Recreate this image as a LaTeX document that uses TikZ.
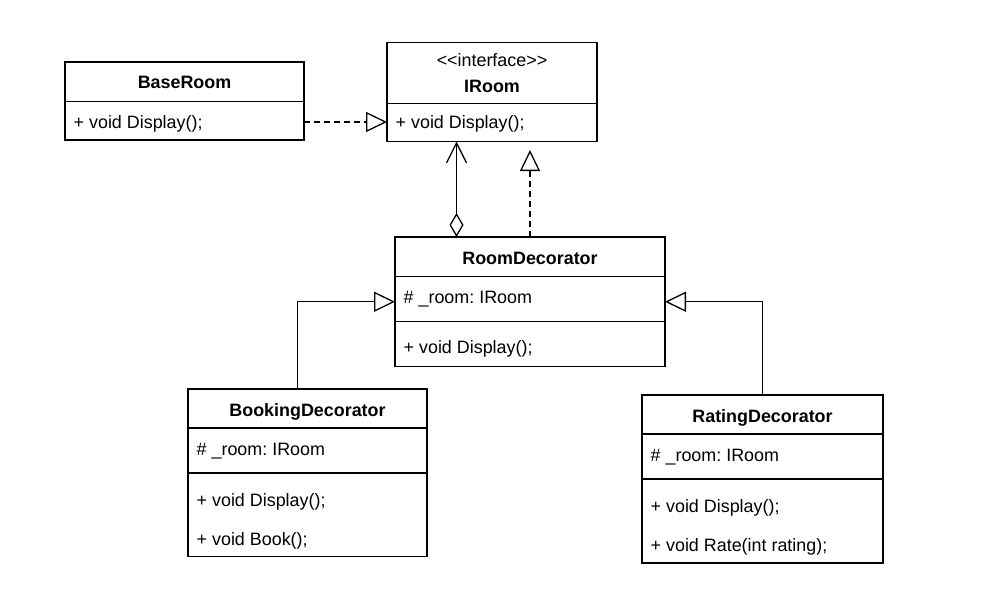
\documentclass[tikz,border=0pt]{standalone}
\usepackage{fontspec}
\setmainfont{Liberation Sans}
\usetikzlibrary{arrows.meta}
\frenchspacing
\begin{document}
\begin{tikzpicture}[x=1pt,y=-1pt, line width=1.4pt,
  box/.style={draw, rectangle, inner sep=0pt, outer sep=0pt, anchor=north west},
  ttl/.style={font=\fontsize{17.9}{20}\selectfont\bfseries, inner sep=0pt, anchor=base},
  stereo/.style={font=\fontsize{17.9}{20}\selectfont, inner sep=0pt, anchor=base},
  txt/.style={font=\fontsize{17.9}{20}\selectfont, inner sep=0pt, anchor=base west},
  dashline/.style={dash pattern=on 6pt off 4pt},
  realize/.style={-{Triangle[open,length=21pt,width=20pt,line width=1.3pt]}},
  aggr/.style={{Diamond[open,length=24pt,width=14pt,line width=1.3pt]}-{Straight Barb[length=20pt,width=20pt,line width=1.3pt]}}
]
\useasboundingbox (0,0) rectangle (988,598);

% BaseRoom
\node[box, minimum width=239pt, minimum height=78pt] (base) at (65,62) {};
\draw (65,101.5) -- (304,101.5);
\node[ttl] (baset) at (184.5,88.3) {BaseRoom};
\node[txt] (basem) at (73,128) {+ void Display();};

% IRoom
\node[box, minimum width=210pt, minimum height=99pt] (iroom) at (387,42.5) {};
\draw (387,103.5) -- (597,103.5);
\node[stereo] (iroomst) at (492,66) {<{}<interface>{}>};
\node[ttl] (iroomt) at (492,92) {IRoom};
\node[txt] (iroomm) at (395,128.6) {+ void Display();};

% RoomDecorator
\node[box, minimum width=270pt, minimum height=129.5pt] (deco) at (395,237) {};
\draw (395,276.5) -- (665,276.5);
\draw (395,321.5) -- (665,321.5);
\node[ttl] (decot) at (530,264.3) {RoomDecorator};
\node[txt] (decoa) at (403,303.3) {\# \_room: IRoom};
\node[txt] (decom) at (403,353.3) {+ void Display();};

% BookingDecorator
\node[box, minimum width=239pt, minimum height=167.5pt] (book) at (188,389) {};
\draw (188,428) -- (427,428);
\draw (188,473) -- (427,473);
\node[ttl] (bookt) at (307.5,416.3) {BookingDecorator};
\node[txt] (booka) at (196,455.3) {\# \_room: IRoom};
\node[txt] (bookm1) at (196,506.3) {+ void Display();};
\node[txt] (bookm2) at (196,545.3) {+ void Book();};

% RatingDecorator
\node[box, minimum width=241pt, minimum height=168pt] (rate) at (642,395) {};
\draw (642,434) -- (883,434);
\draw (642,479) -- (883,479);
\node[ttl] (ratet) at (762.5,422) {RatingDecorator};
\node[txt] (ratea) at (650,461.3) {\# \_room: IRoom};
\node[txt] (ratem1) at (650,512.3) {+ void Display();};
\node[txt] (ratem2) at (650,551.3) {+ void Rate(int rating);};

% connectors
\draw[line width=1.3pt, dashline, realize] ([yshift=-21pt]base.east) -- ([yshift=-21pt]base.east -| iroom.west);
\draw[line width=1.3pt, dashline, realize, shorten >=8.5pt] (deco.north) -- (deco.north |- iroom.south);
\draw[line width=1.3pt, aggr] ([xshift=-73.5pt]deco.north) -- ([xshift=-73.5pt]deco.north |- iroom.south);
\draw[line width=1.3pt, realize] ([xshift=-10pt]book.north) |- (deco.west);
\draw[line width=1.3pt, realize] (rate.north) |- (deco.east);
\end{tikzpicture}
\end{document}
